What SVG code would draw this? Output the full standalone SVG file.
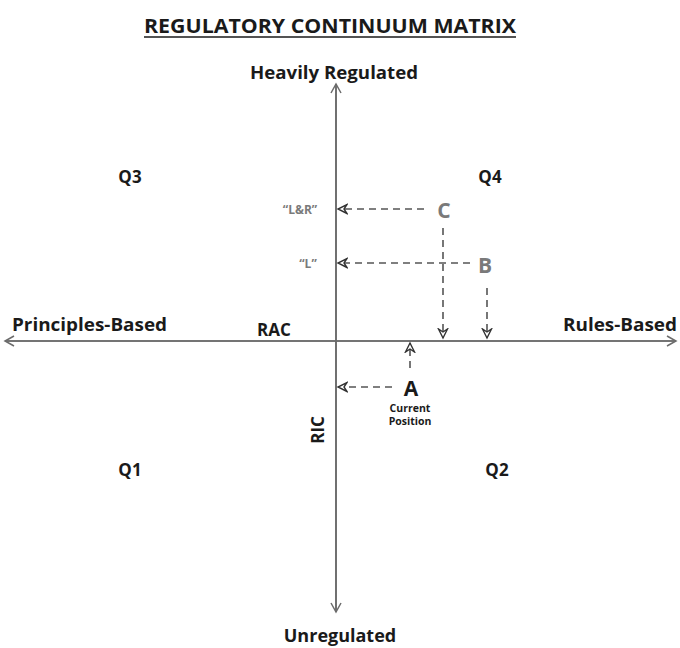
<svg xmlns="http://www.w3.org/2000/svg" width="680" height="648" viewBox="0 0 680 648">
<defs>
<marker id="axisArrow" markerWidth="12" markerHeight="12" refX="10" refY="6" orient="auto" markerUnits="userSpaceOnUse">
<path d="M1,1 L10,6 L1,11" fill="none" stroke="#6b6b6b" stroke-width="1.5"/>
</marker>
<marker id="dashArrow" markerWidth="12" markerHeight="12" refX="10" refY="6" orient="auto" markerUnits="userSpaceOnUse">
<path d="M1,1.5 L10,6 L1,10.5 L4,6 Z" fill="#fff" stroke="#333" stroke-width="1.4" stroke-linejoin="miter"/>
</marker>
<style>
.t{font-family:"Open Sans","Liberation Sans",sans-serif;font-weight:bold;fill:#1a1a1a}
.g{font-family:"Open Sans","Liberation Sans",sans-serif;font-weight:bold;fill:#7a7a7a}
.axis{stroke:#6b6b6b;stroke-width:1.6;fill:none}
.dash{stroke:#555;stroke-width:1.6;stroke-dasharray:7,5;fill:none}
</style>
</defs>
<rect width="680" height="648" fill="#fff"/>
<g id="title">
<text class="t" x="330" y="33" font-size="20" text-anchor="middle" textLength="372" lengthAdjust="spacingAndGlyphs">REGULATORY CONTINUUM MATRIX</text>
<line x1="144" y1="37" x2="516" y2="37" stroke="#1a1a1a" stroke-width="1.5"/>
</g>
<g id="connectors">
<line class="axis" x1="336" y1="612" x2="336" y2="84" marker-end="url(#axisArrow)"/>
<line class="axis" x1="336" y1="84" x2="336" y2="612" marker-end="url(#axisArrow)"/>
<line class="axis" x1="5" y1="341" x2="676" y2="341" marker-end="url(#axisArrow)"/>
<line class="axis" x1="676" y1="341" x2="5" y2="341" marker-end="url(#axisArrow)"/>
<line class="dash" x1="424" y1="209" x2="338" y2="209" marker-end="url(#dashArrow)"/>
<line class="dash" x1="470" y1="263" x2="338" y2="263" marker-end="url(#dashArrow)"/>
<line class="dash" x1="443" y1="228" x2="443" y2="338" marker-end="url(#dashArrow)"/>
<line class="dash" x1="487" y1="288" x2="487" y2="338" marker-end="url(#dashArrow)"/>
<line class="dash" x1="392" y1="387" x2="338" y2="387" marker-end="url(#dashArrow)"/>
<line class="dash" x1="410" y1="368" x2="410" y2="343" marker-end="url(#dashArrow)"/>
</g>
<g id="axis-labels">
<text class="t" x="334" y="79" font-size="18" text-anchor="middle" textLength="168" lengthAdjust="spacingAndGlyphs">Heavily Regulated</text>
<text class="t" x="340" y="642" font-size="18" text-anchor="middle">Unregulated</text>
<text class="t" x="12" y="331" font-size="18" textLength="155" lengthAdjust="spacingAndGlyphs">Principles-Based</text>
<text class="t" x="677" y="331" font-size="18" text-anchor="end" textLength="114" lengthAdjust="spacingAndGlyphs">Rules-Based</text>
<text class="t" x="274" y="336" font-size="17" text-anchor="middle">RAC</text>
<text class="t" transform="translate(324,430) rotate(-90)" font-size="17" text-anchor="middle">RIC</text>
</g>
<g id="q3"><text class="t" x="130" y="183" font-size="17" text-anchor="middle">Q3</text></g>
<g id="q4"><text class="t" x="490" y="183" font-size="17" text-anchor="middle">Q4</text></g>
<g id="q1"><text class="t" x="130" y="476" font-size="17" text-anchor="middle">Q1</text></g>
<g id="q2"><text class="t" x="497" y="476" font-size="17" text-anchor="middle">Q2</text></g>
<g id="lr"><text class="g" x="300" y="214" font-size="12" text-anchor="middle">“L&amp;R”</text></g>
<g id="l"><text class="g" x="308" y="268" font-size="12" text-anchor="middle">“L”</text></g>
<g id="c"><text class="g" x="444" y="218" font-size="21" text-anchor="middle">C</text></g>
<g id="b"><text class="g" x="485" y="273" font-size="21" text-anchor="middle">B</text></g>
<g id="a">
<text class="t" x="411" y="396" font-size="21" text-anchor="middle">A</text>
<text class="t" x="410" y="412" font-size="10.5" text-anchor="middle">Current</text>
<text class="t" x="410" y="425" font-size="10.5" text-anchor="middle">Position</text>
</g>
</svg>
